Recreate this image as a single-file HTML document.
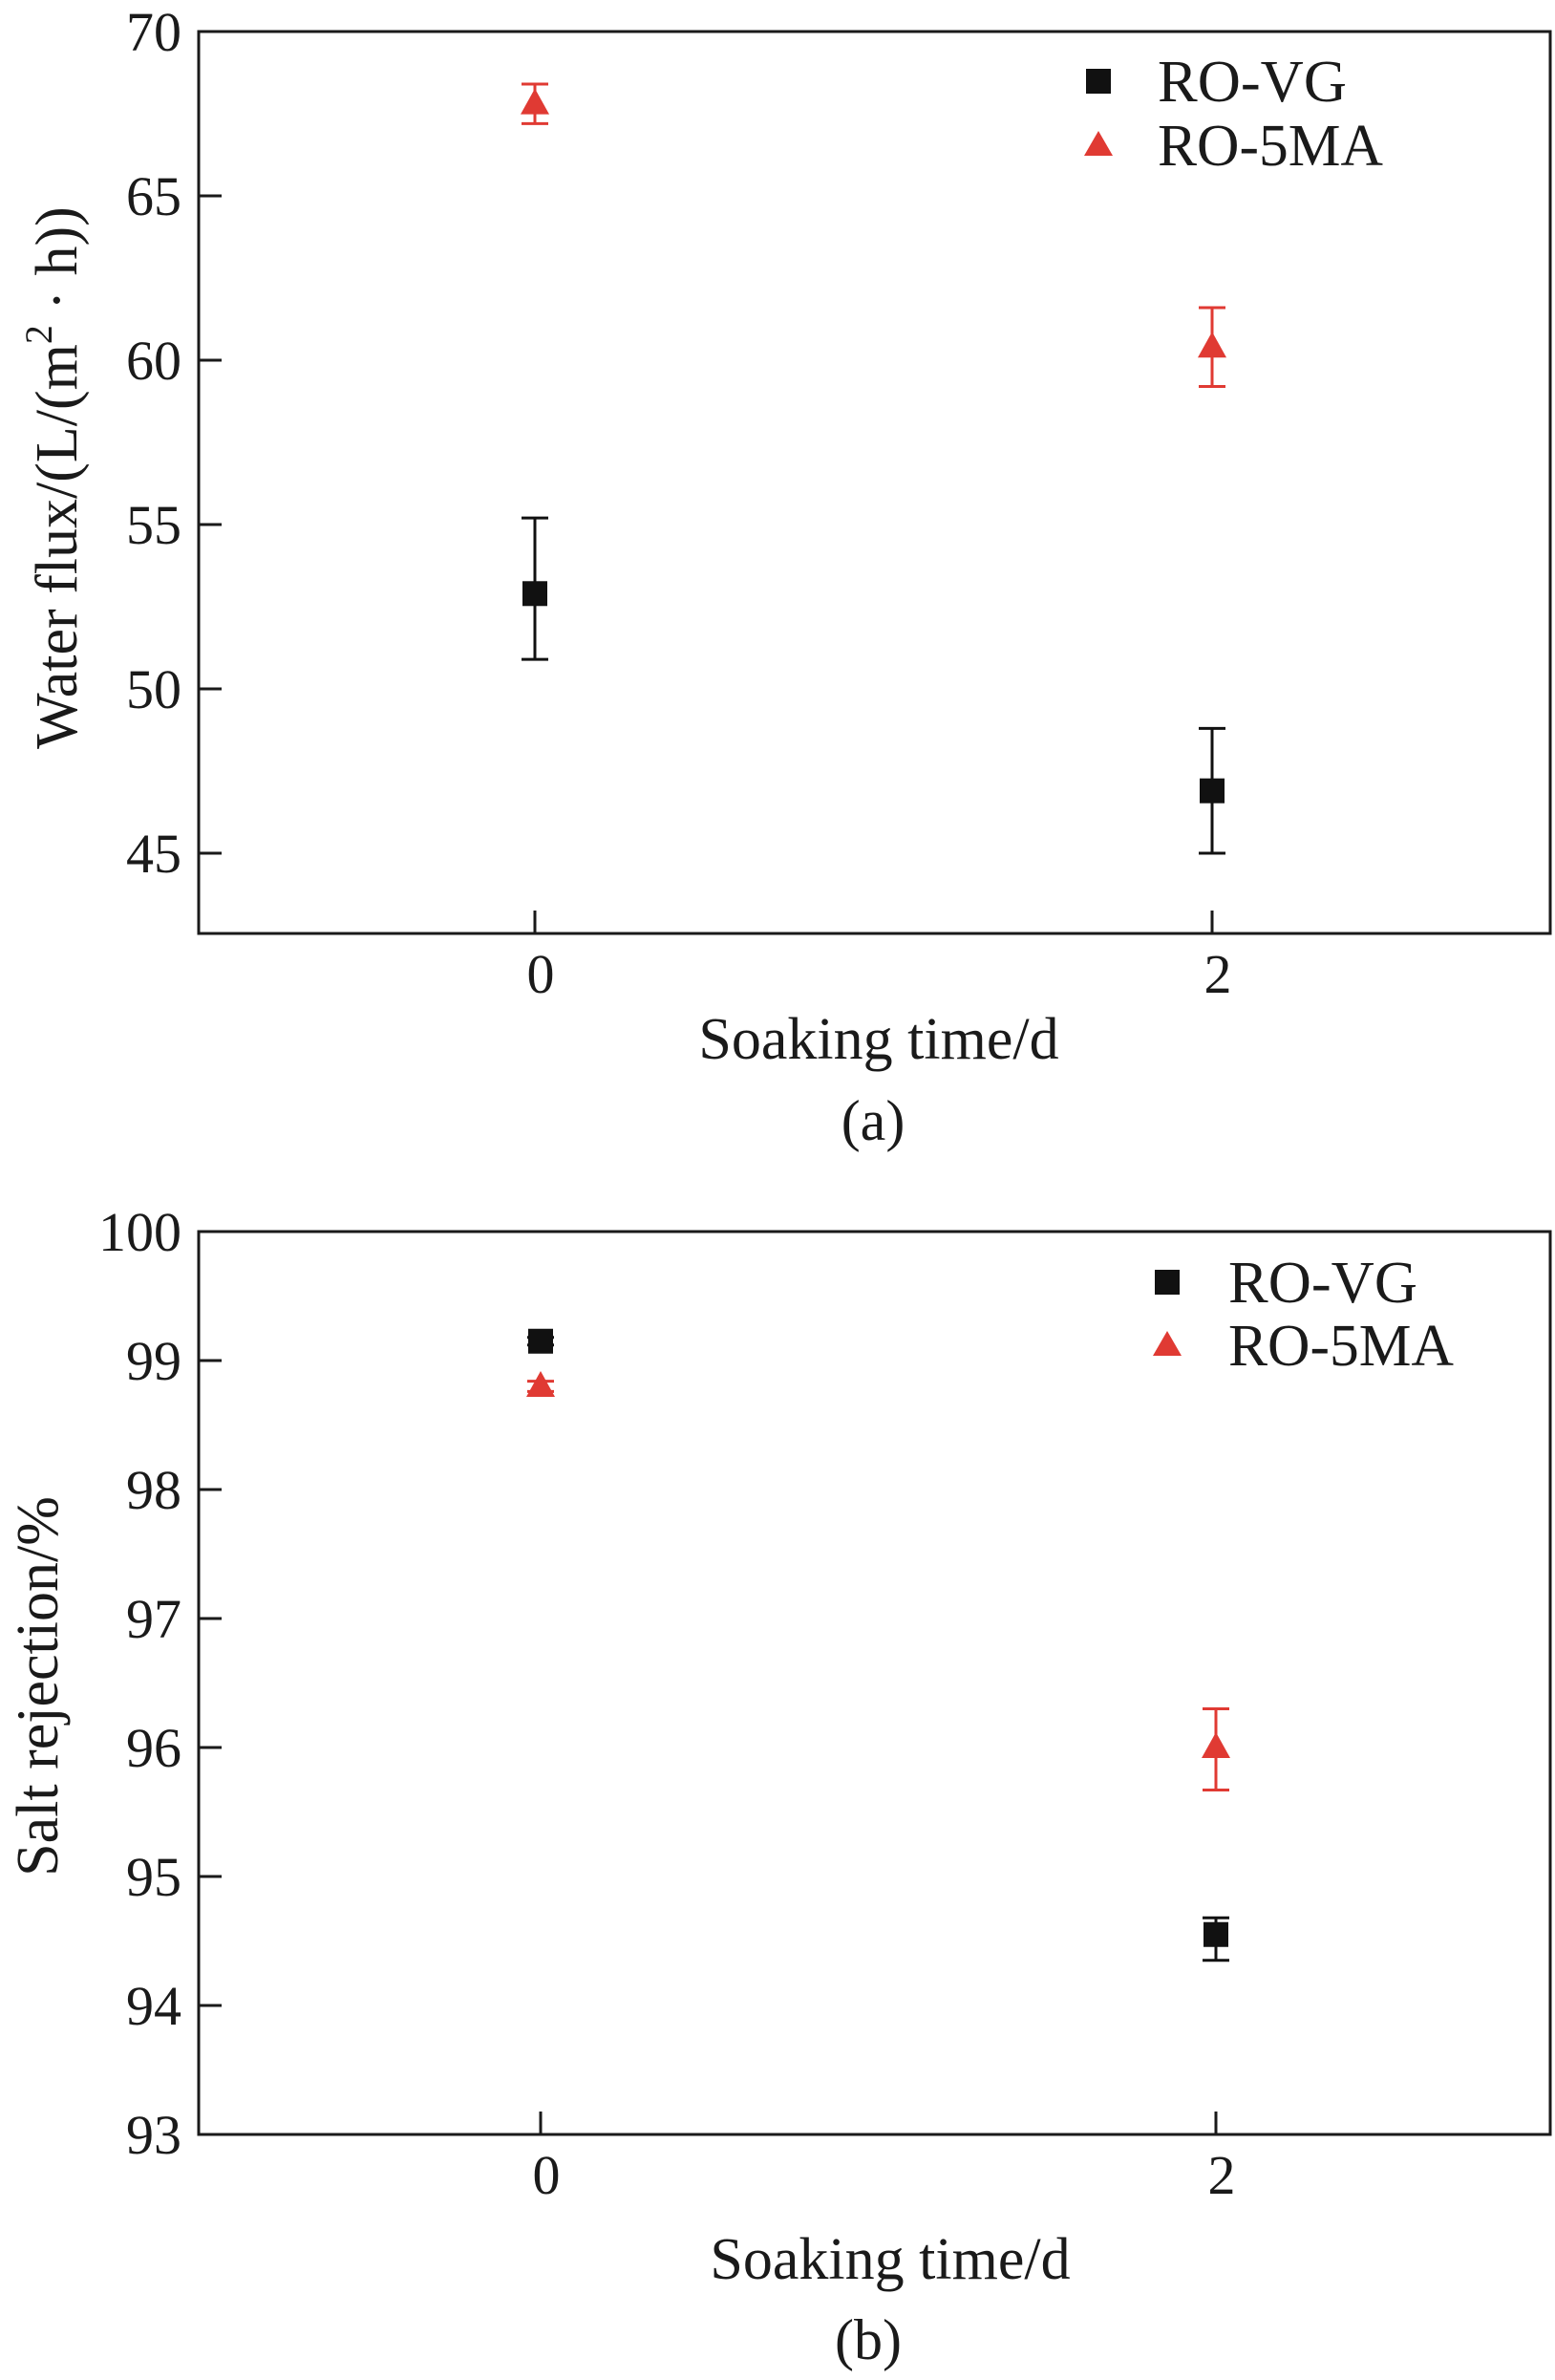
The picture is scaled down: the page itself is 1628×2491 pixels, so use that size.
<!DOCTYPE html>
<html><head><meta charset="utf-8"><style>
html,body{margin:0;padding:0;background:#fff}
svg{display:block}
text{font-family:"Liberation Serif",serif;fill:#1a1a1a}
</style></head><body>
<svg id="c" width="1628" height="2491" viewBox="0 0 1628 2491" xmlns="http://www.w3.org/2000/svg"></svg>
<script>
// Panel (a) data
const timesA = [0, 2];
const fluxVG = [52.9, 46.9];
const fluxVGErrHi = [55.2, 48.8];
const fluxVGErrLo = [50.9, 45.0];
const flux5MA = [67.8, 60.4];
const flux5MAErrHi = [68.4, 61.6];
const flux5MAErrLo = [67.2, 59.2];
const yTicksA = [45, 50, 55, 60, 65, 70];
const xTicks = [0, 2];
// Panel (b) data
const timesB = [0, 2];
const rejVG = [99.15, 94.55];
const rejVGErrHi = [99.18, 94.68];
const rejVGErrLo = [99.12, 94.35];
const rej5MA = [98.8, 96.0];
const rej5MAErrHi = [98.84, 96.3];
const rej5MAErrLo = [98.76, 95.67];
const yTicksB = [93, 94, 95, 96, 97, 98, 99, 100];

const NS = "http://www.w3.org/2000/svg";
const svg = document.getElementById('c');
function mk(tag, attrs, parent){const e=document.createElementNS(NS,tag);for(const k in attrs)e.setAttribute(k,attrs[k]);(parent||svg).appendChild(e);return e;}

function panel(o){
  const g = mk('g',{});
  
  
  const xs = v => o.x0 + (v - 0) * (o.x2 - o.x0) / 2;
  const ys = v => o.top + (o.yMax - v) * (o.bottom - o.top) / (o.yMax - o.yMin);
  const frame = mk('rect',{x:o.left,y:o.top,width:o.right-o.left,height:o.bottom-o.top,fill:'none',stroke:'#1a1a1a','stroke-width':3},g);
  
  
  o.yTicks.forEach(t=>{
    const y = ys(t);
    if (t !== o.yMax && t !== o.yMin) { const l = mk('line',{x1:o.left,x2:o.left+24,y1:y,y2:y,stroke:'#1a1a1a','stroke-width':3},g);
      }
    const tx = mk('text',{x:o.left-18,y:y+20,'font-size':58,'text-anchor':'end'},g);
    tx.textContent = t;
    
    
  });
  xTicks.forEach(t=>{
    const x = xs(t);
    const l = mk('line',{x1:x,x2:x,y1:o.bottom,y2:o.bottom-24,stroke:'#1a1a1a','stroke-width':3},g);
     
    const tx = mk('text',{x:x+6,y:o.bottom+62,'font-size':58,'text-anchor':'middle'},g);
    tx.textContent = t;
    
    
  });
  function series(times, vals, hi, lo, color, shape, sname){
    times.forEach((t,i)=>{
      const x = xs(t), y = ys(vals[i]), yh = ys(hi[i]), yl = ys(lo[i]);
      const eb = mk('path',{d:`M${x},${yh}V${yl}M${x-14},${yh}H${x+14}M${x-14},${yl}H${x+14}`,stroke:color,'stroke-width':3,fill:'none'},g);
      
      
      let m;
      if (shape==='sq') m = mk('rect',{x:x-13,y:y-13,width:26,height:26,fill:color},g);
      else m = mk('polygon',{points:`${x},${y-16} ${x+15},${y+11} ${x-15},${y+11}`,fill:color},g);
      
      
    });
  }
  series(o.times, o.vg, o.vgHi, o.vgLo, '#111', 'sq', 'ro-vg');
  series(o.times, o.ma, o.maHi, o.maLo, '#e03a33', 'tri', 'ro-5ma');
  const lg = mk('g',{},g);
   
  const s = mk('rect',{x:o.legX-13,y:o.legY1-13,width:26,height:26,fill:'#111'},lg);
   
  const tr = mk('polygon',{points:`${o.legX},${o.legY2-15} ${o.legX+15},${o.legY2+11} ${o.legX-15},${o.legY2+11}`,fill:'#e03a33'},lg);
   
  const t1 = mk('text',{x:o.legTX,y:o.legY1+21,'font-size':62,textLength:198,lengthAdjust:'spacingAndGlyphs'},lg); t1.textContent='RO-VG';
   
  const t2 = mk('text',{x:o.legTX,y:o.legY2+21,'font-size':62,textLength:236,lengthAdjust:'spacingAndGlyphs'},lg); t2.textContent='RO-5MA';
   
  const xt = mk('text',{x:o.xtX,y:o.xtY,'font-size':62,'text-anchor':'middle'},g); xt.textContent='Soaking time/d';
   
  const yt = mk('text',{x:0,y:0,'font-size':62,'text-anchor':'middle',transform:`translate(${o.ytX},${o.ytY}) rotate(-90)`},g);
   
  if (o.sup) { yt.innerHTML = 'Water flux/(L/(m<tspan font-size="40" dy="-26">2</tspan><tspan dy="26"> · h))</tspan>'; }
  else yt.textContent = o.yTitle;
  const cap = mk('text',{x:o.capX,y:o.capY,'font-size':60,'text-anchor':'middle'},g); cap.textContent=o.cap;
   
}

panel({name:'panel-a-water-flux',left:208,right:1623,top:33,bottom:977,yMin:42.56,yMax:70,x0:560,x2:1269,
  yTicks:yTicksA,times:timesA,vg:fluxVG,vgHi:fluxVGErrHi,vgLo:fluxVGErrLo,ma:flux5MA,maHi:flux5MAErrHi,maLo:flux5MAErrLo,
  legX:1150,legY1:85,legY2:152,legTX:1212,xtX:920,xtY:1108,ytX:80,ytY:500,sup:true,capX:914,capY:1193,cap:'(a)'});
panel({name:'panel-b-salt-rejection',left:208,right:1623,top:1289,bottom:2234,yMin:93,yMax:100,x0:566,x2:1273,
  yTicks:yTicksB,times:timesB,vg:rejVG,vgHi:rejVGErrHi,vgLo:rejVGErrLo,ma:rej5MA,maHi:rej5MAErrHi,maLo:rej5MAErrLo,
  legX:1222,legY1:1342,legY2:1408,legTX:1286,xtX:932,xtY:2385,ytX:60,ytY:1765,yTitle:'Salt rejection/%',capX:909,capY:2469,cap:'(b)'});
</script>
</body></html>
